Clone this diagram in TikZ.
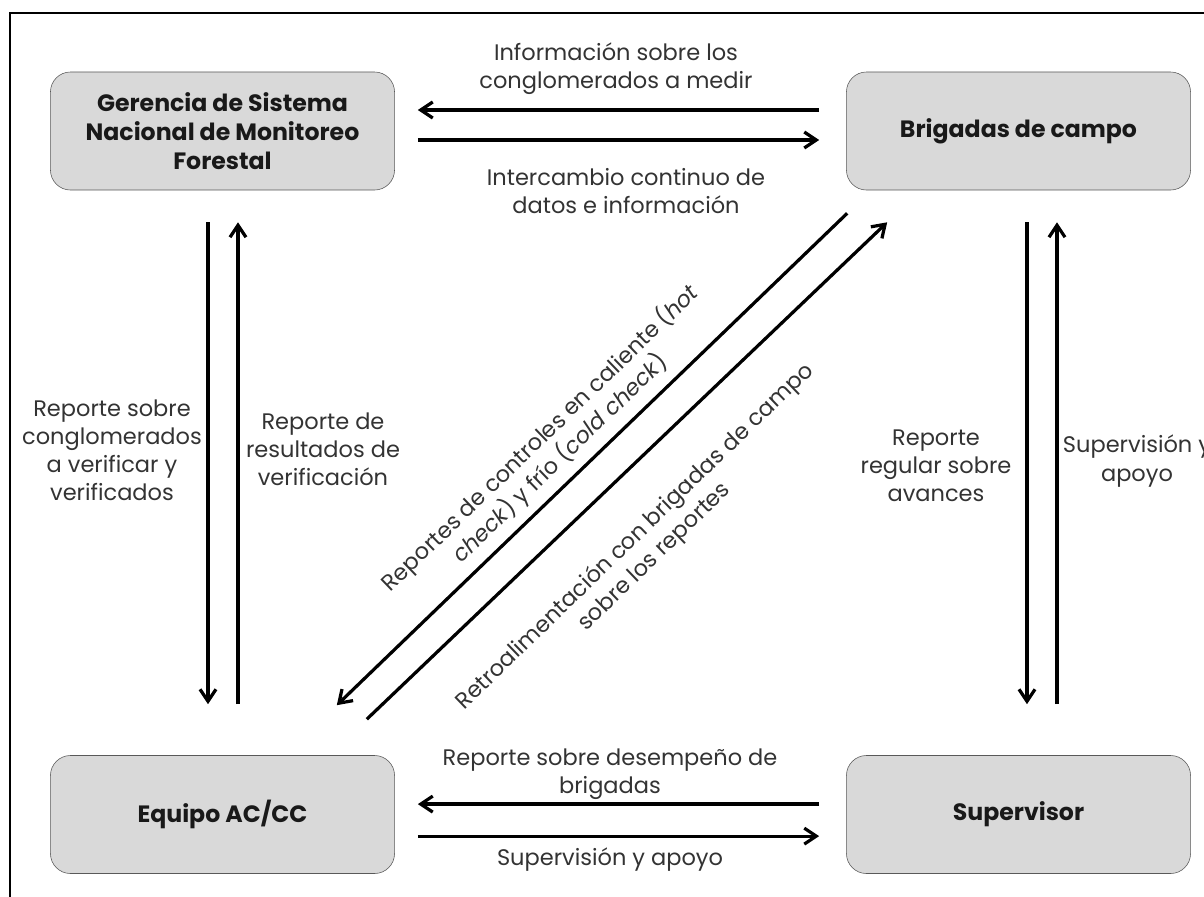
\documentclass[tikz,border=0pt]{standalone}
\usepackage{fontspec}
\setmainfont{Poppins}
\usetikzlibrary{arrows.meta}

\begin{document}
\begin{tikzpicture}[x=0.025cm, y=-0.025cm,
    box/.style={draw=black!65, fill=black!15, rounded corners=0.5cm, minimum width=8.6cm, minimum height=2.95cm, align=center, text=black!90, font=\bfseries\fontsize{16.8}{20.5}\selectfont},
    lbl/.style={align=center, text=black!80, font=\fontsize{16}{20}\selectfont},
    flow/.style={line width=2.3pt, -{Straight Barb[length=3mm,width=4mm]}}]
  \clip (0,0) rectangle (1204,896);
  \draw[line width=1.4pt] (10,1000) -- (10,13) -- (1300,13);

  \node[box] (ger) at (222.5,131) {Gerencia de Sistema\\Nacional de Monitoreo\\Forestal};
  \node[box] (brig) at (1018.5,131) {Brigadas de campo};
  \node[box] (acc) at (222.5,814.5) {Equipo AC/CC};
  \node[box] (sup) at (1018.5,814.5) {Supervisor};

  \draw[flow, shorten <=0.675cm, shorten >=0.575cm] ([yshift=0.525cm]brig.west) -- ([yshift=0.525cm]ger.east);
  \draw[flow, shorten <=0.575cm, shorten >=0.675cm] ([yshift=-0.225cm]ger.east) -- ([yshift=-0.225cm]brig.west);
  \draw[flow, shorten <=0.675cm, shorten >=0.575cm] ([yshift=0.26cm]sup.west) -- ([yshift=0.26cm]acc.east);
  \draw[flow, shorten <=0.575cm, shorten >=0.675cm] ([yshift=-0.54cm]acc.east) -- ([yshift=-0.54cm]sup.west);

  \draw[flow, shorten <=0.8cm, shorten >=1.275cm] ([xshift=-0.3625cm]ger.south) -- ([xshift=-0.3625cm]acc.north);
  \draw[flow, shorten <=1.275cm, shorten >=0.8cm] ([xshift=0.3875cm]acc.north) -- ([xshift=0.3875cm]ger.south);
  \draw[flow, shorten <=0.8cm, shorten >=1.275cm] ([xshift=0.2125cm]brig.south) -- ([xshift=0.2125cm]sup.north);
  \draw[flow, shorten <=1.275cm, shorten >=0.8cm] ([xshift=0.9625cm]sup.north) -- ([xshift=0.9625cm]brig.south);

  \draw[flow] ([xshift=0.025cm,yshift=-0.575cm]brig.south west) -- ([xshift=-1.45cm,yshift=1.25cm]acc.north east);
  \draw[flow] ([xshift=-0.7cm,yshift=0.9cm]acc.north east) -- ([xshift=1.025cm,yshift=-0.8cm]brig.south west);

  \node[lbl] (infolbl) at (616,69) {Información sobre los\\conglomerados a medir};
  \node[lbl] (interlbl) at (626,191) {Intercambio continuo de\\datos e información};
  \node[lbl] (desemplbl) at (610,774) {Reporte sobre desempeño de\\brigadas};
  \node[lbl] (apoyolbl) at (610,860) {Supervisión y apoyo};
  \node[lbl] (verlbl) at (112,450) {Reporte sobre\\conglomerados\\a verificar y\\verificados};
  \node[lbl] (reslbl) at (323,449) {Reporte de\\resultados de\\verificación};
  \node[lbl] (avlbl) at (936,466) {Reporte\\regular sobre\\avances};
  \node[lbl] (suplbl) at (1137,461) {Supervisión y\\apoyo};
  \node[lbl, rotate=44] (hotlbl) at (550,448) {Reportes de controles en caliente (\textit{hot}\\\textit{check}) y frío (\textit{cold check})};
  \node[lbl, rotate=44] (retrolbl) at (645,547) {Retroalimentación con brigadas de campo\\sobre los reportes};
\end{tikzpicture}
\end{document}
